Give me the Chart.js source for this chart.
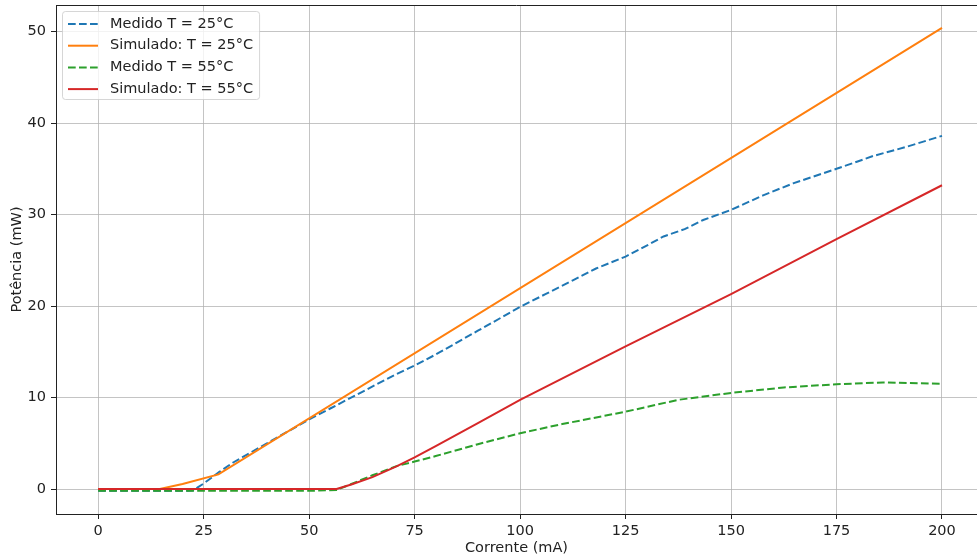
<!DOCTYPE html>
<html>
<head>
<meta charset="utf-8">
<script src="https://cdn.jsdelivr.net/npm/chart.js@4.4.1/dist/chart.umd.min.js"></script>
<style>
  html, body { margin: 0; padding: 0; background: #fff; }
  #wrap { width: 977px; height: 559px; }
</style>
</head>
<body>
<div id="wrap"><canvas id="chart" width="977" height="559"></canvas></div>
<script>
// tick values
const xTicks = [0, 25, 50, 75, 100, 125, 150, 175, 200];
const yTicks = [0, 10, 20, 30, 40, 50];

// Medido T = 25°C
const med25X = [0, 5, 10, 15, 20, 22.5, 25, 28.8, 32, 40, 50, 55, 62.5, 70, 75, 80, 90, 100, 106, 112.5, 118, 125, 130, 134, 139, 143.4, 150, 157.6, 164.7, 171.8, 175, 180, 183.7, 191.6, 200];
const med25Y = [-0.2, -0.2, -0.2, -0.2, -0.2, -0.15, 0.6, 1.9, 2.9, 5.0, 7.6, 8.8, 10.6, 12.4, 13.5, 14.7, 17.3, 19.9, 21.3, 22.8, 24.1, 25.4, 26.6, 27.6, 28.4, 29.4, 30.5, 32.1, 33.4, 34.5, 35.0, 35.8, 36.4, 37.4, 38.6];

// Simulado: T = 25°C
const sim25X = [0, 14.6, 20, 28.5, 200];
const sim25Y = [0, 0, 0.55, 1.6, 50.4];

// Medido T = 55°C
const med55X = [0, 10, 20, 30, 40, 50, 56.5, 60, 65, 70.7, 75, 80, 90, 100, 110, 125, 137.5, 150, 162.5, 175, 186, 200];
const med55Y = [-0.2, -0.2, -0.2, -0.2, -0.2, -0.2, -0.1, 0.55, 1.5, 2.5, 3.0, 3.6, 4.9, 6.1, 7.1, 8.45, 9.75, 10.5, 11.1, 11.45, 11.65, 11.5];

// Simulado: T = 55°C
const sim55X = [0, 56.5, 60, 65, 70.7, 75, 80, 90, 100, 125, 150, 175, 200];
const sim55Y = [0, 0, 0.5, 1.3, 2.47, 3.45, 4.7, 7.2, 9.75, 15.6, 21.3, 27.3, 33.2];

const pts = (xs, ys) => xs.map((x, i) => ({ x, y: ys[i] }));

const FONT = 'DejaVu Sans, sans-serif';
const FS = 14.5;
const TEXT = '#222';
const dash = [7.7, 3.3];

function line(label, xs, ys, color, dashed, order) {
  return {
    label,
    data: pts(xs, ys),
    borderColor: color,
    backgroundColor: color,
    borderWidth: 2,
    borderDash: dashed ? dash : [],
    pointRadius: 0,
    tension: 0,
    fill: false,
    order
  };
}

// top spine (right one falls outside the crop)
const frame = {
  id: 'frame',
  afterDatasetsDraw(chart) {
    const { ctx, chartArea: a } = chart;
    ctx.save();
    ctx.strokeStyle = '#222';
    ctx.lineWidth = 1;
    ctx.beginPath();
    ctx.moveTo(a.left, a.top + 0.5);
    ctx.lineTo(a.right, a.top + 0.5);
    ctx.stroke();
    ctx.restore();
  }
};

// matplotlib style legend, upper left
const legendBox = {
  id: 'legendBox',
  afterDatasetsDraw(chart) {
    const { ctx, chartArea: a } = chart;
    const sets = chart.data.datasets;
    ctx.save();
    ctx.font = `${FS}px ${FONT}`;
    const tw = Math.max(...sets.map(d => ctx.measureText(d.label).width));
    const x0 = a.left + 6, y0 = a.top + 6;
    const w = 48 + tw + 6, h = 88;
    ctx.beginPath();
    ctx.roundRect(x0 + 0.5, y0 + 0.5, w, h, 3);
    ctx.fillStyle = 'rgba(255,255,255,0.8)';
    ctx.fill();
    ctx.strokeStyle = 'rgba(204,204,204,0.8)';
    ctx.lineWidth = 1;
    ctx.stroke();
    sets.forEach((d, i) => {
      const cy = y0 + 13 + i * 21.7;
      ctx.strokeStyle = d.borderColor;
      ctx.lineWidth = 2;
      ctx.setLineDash(d.borderDash || []);
      ctx.beginPath();
      ctx.moveTo(x0 + 6, cy);
      ctx.lineTo(x0 + 36, cy);
      ctx.stroke();
      ctx.setLineDash([]);
      ctx.fillStyle = TEXT;
      ctx.textBaseline = 'middle';
      ctx.textAlign = 'left';
      ctx.fillText(d.label, x0 + 48, cy);
    });
    ctx.restore();
  }
};

const gridCol = 'rgba(176,176,176,0.75)';

new Chart(document.getElementById('chart'), {
  type: 'line',
  data: {
    datasets: [
      line('Medido T = 25°C', med25X, med25Y, '#1f77b4', true, 4),
      line('Simulado: T = 25°C', sim25X, sim25Y, '#ff7f0e', false, 3),
      line('Medido T = 55°C', med55X, med55Y, '#2ca02c', true, 2),
      line('Simulado: T = 55°C', sim55X, sim55Y, '#d62728', false, 1)
    ]
  },
  plugins: [frame, legendBox],
  options: {
    responsive: false,
    animation: false,
    events: [],
    layout: { padding: { top: 5, right: 0, bottom: 0, left: 0 } },
    plugins: { legend: { display: false }, tooltip: { enabled: false } },
    scales: {
      x: {
        type: 'linear',
        min: -10,
        max: 208.3,
        afterBuildTicks: s => { s.ticks = xTicks.map(v => ({ value: v })); },
        afterFit: s => { s.height = 45; s.paddingLeft = 0; s.paddingRight = 0; },
        grid: { color: gridCol, lineWidth: 1, tickColor: '#222', tickLength: 5 },
        border: { color: '#222', width: 1 },
        ticks: { color: TEXT, font: { family: FONT, size: FS }, padding: 4, maxRotation: 0 },
        title: { display: true, text: 'Corrente (mA)', color: TEXT, font: { family: FONT, size: FS }, padding: { top: 0, bottom: 2.4 } }
      },
      y: {
        type: 'linear',
        min: -2.73,
        max: 52.9,
        afterBuildTicks: s => { s.ticks = yTicks.map(v => ({ value: v })); },
        afterFit: s => { s.width = 56; s.paddingTop = 0; s.paddingBottom = 0; },
        grid: { color: gridCol, lineWidth: 1, tickColor: '#222', tickLength: 5 },
        border: { color: '#222', width: 1 },
        ticks: { color: TEXT, font: { family: FONT, size: FS }, padding: 5 },
        title: { display: true, text: 'Potência (mW)', color: TEXT, font: { family: FONT, size: FS }, padding: { top: 8.6, bottom: 0 } }
      }
    }
  }
});
</script>
</body>
</html>
